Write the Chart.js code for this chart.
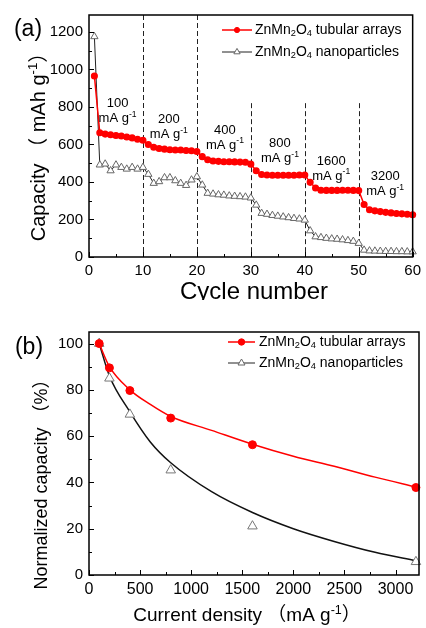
<!DOCTYPE html>
<html>
<head>
<meta charset="utf-8">
<script src="https://cdn.jsdelivr.net/npm/chart.js@4"></script>
<style>
  body { margin: 0; background: #fff; }
  #wrap { position: relative; width: 426px; height: 628px; }
  canvas { position: absolute; left: 0; }
  #chartA { top: 0; }
  #chartB { top: 300px; }
</style>
</head>
<body>
<div id="wrap">
  <canvas id="chartA" width="426" height="300"></canvas>
  <canvas id="chartB" width="426" height="328"></canvas>
</div>
<script>
// ---- data (a): rate capability vs cycle number
const cycles = [1, 2, 3, 4, 5, 6, 7, 8, 9, 10, 11, 12, 13, 14, 15, 16, 17, 18, 19, 20,
  21, 22, 23, 24, 25, 26, 27, 28, 29, 30, 31, 32, 33, 34, 35, 36, 37, 38, 39, 40,
  41, 42, 43, 44, 45, 46, 47, 48, 49, 50, 51, 52, 53, 54, 55, 56, 57, 58, 59, 60];
const tubularCap = [965, 662, 655, 652, 648, 645, 640, 635, 628, 622,
  600, 585, 578, 575, 572, 570, 570, 568, 566, 562,
  535, 518, 512, 510, 508, 508, 507, 506, 505, 495,
  460, 440, 437, 436, 436, 436, 436, 436, 437, 437,
  398, 368, 356, 355, 355, 355, 356, 356, 355, 354,
  280, 252, 246, 242, 238, 235, 232, 230, 228, 225];
const nanoCap = [1175, 491, 496, 460, 491, 478, 469, 478, 469, 478,
  441, 393, 402, 423, 423, 407, 393, 382, 411, 428,
  384, 340, 336, 332, 330, 326, 324, 322, 320, 315,
  277, 233, 228, 222, 218, 214, 210, 206, 203, 197,
  140, 108, 104, 100, 97, 95, 92, 88, 84, 73,
  37, 33, 32, 31, 30, 30, 29, 29, 28, 28];
const rateLabels = ['100', '200', '400', '800', '1600', '3200'];
const rateBoundaries = [10, 20, 30, 40, 50];
const ticksAx = [0, 10, 20, 30, 40, 50, 60];
const ticksAy = [0, 200, 400, 600, 800, 1000, 1200];

// ---- data (b): normalized capacity vs current density
const currents = [100, 200, 400, 800, 1600, 3200];
const tubularNorm = [100, 89.5, 79.7, 67.8, 56.3, 37.8];
const nanoNorm = [100, 85, 69.4, 45.3, 21.1, 5.7];
const fitCurrents = [100, 200, 400, 600, 800, 1200, 1600, 2000, 2400, 2800, 3200];
const tubularFit = [100, 90, 80, 73.7, 68.5, 62.5, 56.5, 51.3, 47, 42.3, 38];
const nanoFit = [100, 86, 70.5, 57.5, 48.5, 36, 27, 20, 14.5, 9.8, 6.2];
const ticksBx = [0, 500, 1000, 1500, 2000, 2500, 3000];
const ticksBy = [0, 20, 40, 60, 80, 100];

const labelTubular = 'ZnMn2O4 tubular arrays';
const labelNano = 'ZnMn2O4 nanoparticles';

const FONT = '"Liberation Sans", Arial, "Noto Sans CJK SC", sans-serif';
const RED = '#ff0000';

// annotation anchors for the rate labels (in data units of chart a)
const rateLabelPos = [[5.3, 816], [14.8, 731], [25.2, 677], [35.4, 603], [44.9, 512], [54.9, 427]];
const boundaryTops = [1290, 1290, 820, 820, 820];

function pts(xs, ys) {
  return xs.map((x, i) => ({ x: x, y: ys[i] }));
}

// text with sub/superscript parts: [[text, ''|'sub'|'sup'], ...]
function drawRich(ctx, parts, x, y, size, align) {
  const small = size * 0.66;
  let w = 0;
  parts.forEach(p => {
    ctx.font = (p[1] ? small : size) + 'px ' + FONT;
    w += ctx.measureText(p[0]).width;
  });
  let cx = align === 'center' ? x - w / 2 : (align === 'right' ? x - w : x);
  ctx.textAlign = 'left';
  ctx.textBaseline = 'middle';
  ctx.fillStyle = '#000';
  parts.forEach(p => {
    ctx.font = (p[1] ? small : size) + 'px ' + FONT;
    const dy = p[1] === 'sub' ? size * 0.22 : (p[1] === 'sup' ? -size * 0.3 : 0);
    ctx.fillText(p[0], cx, y + dy);
    cx += ctx.measureText(p[0]).width;
  });
}

function formulaParts(label) {
  return label.split(/(\d)/).filter(s => s).map(s => [s, /^\d$/.test(s) ? 'sub' : '']);
}

function drawMarker(ctx, type, x, y, r, fill, stroke) {
  ctx.beginPath();
  if (type === 'circle') {
    ctx.arc(x, y, r, 0, Math.PI * 2);
  } else {
    ctx.moveTo(x, y - r);
    ctx.lineTo(x + r * 0.87, y + r * 0.5);
    ctx.lineTo(x - r * 0.87, y + r * 0.5);
    ctx.closePath();
  }
  ctx.fillStyle = fill;
  ctx.fill();
  ctx.lineWidth = 1;
  ctx.strokeStyle = stroke;
  ctx.stroke();
}

// frame round the plot area + inward major/minor ticks
const framePlugin = {
  id: 'frame',
  afterDraw(chart) {
    const ctx = chart.ctx;
    const a = chart.chartArea;
    ctx.save();
    ctx.strokeStyle = '#000';
    ctx.lineWidth = 1.5;
    ctx.strokeRect(a.left, a.top, a.right - a.left, a.bottom - a.top);
    ctx.lineWidth = 1;
    const xs = chart.scales.x, ys = chart.scales.y;
    ctx.beginPath();
    [xs, ys].forEach(s => {
      const vals = s.ticks.map(t => t.value);
      const step = vals[1] - vals[0];
      const marks = [];
      vals.forEach(v => { marks.push([v, 5]); marks.push([v + step / 2, 3]); });
      marks.forEach(m => {
        if (m[0] > s.max) return;
        if (s === xs) {
          const px = Math.round(xs.getPixelForValue(m[0])) + 0.5;
          ctx.moveTo(px, a.bottom);
          ctx.lineTo(px, a.bottom - m[1]);
        } else {
          const py = Math.round(ys.getPixelForValue(m[0])) + 0.5;
          ctx.moveTo(a.left, py);
          ctx.lineTo(a.left + m[1], py);
        }
      });
    });
    ctx.stroke();
    ctx.restore();
  }
};

// custom legend: line + marker + formula text
function legendPlugin(rows) {
  return {
    id: 'legendRows',
    afterDraw(chart) {
      const ctx = chart.ctx;
      ctx.save();
      rows.forEach(r => {
        ctx.beginPath();
        ctx.strokeStyle = r.line;
        ctx.lineWidth = r.lineWidth;
        ctx.moveTo(r.x0, r.y);
        ctx.lineTo(r.x1, r.y);
        ctx.stroke();
        drawMarker(ctx, r.marker, (r.x0 + r.x1) / 2, r.y, r.r, r.fill, r.stroke);
        drawRich(ctx, formulaParts(r.label), r.tx, r.y, 14, 'left');
      });
      ctx.restore();
    }
  };
}

// dashed boundaries + rate annotations + titles for chart (a)
const annotA = {
  id: 'annotA',
  beforeDatasetsDraw(chart) {
    const ctx = chart.ctx;
    const xs = chart.scales.x, ys = chart.scales.y;
    ctx.save();
    ctx.strokeStyle = '#222';
    ctx.lineWidth = 1;
    ctx.setLineDash([5, 3]);
    rateBoundaries.forEach((c, i) => {
      const px = Math.round(xs.getPixelForValue(c)) + 0.5;
      ctx.beginPath();
      ctx.moveTo(px, Math.max(ys.getPixelForValue(boundaryTops[i]), chart.chartArea.top));
      ctx.lineTo(px, chart.chartArea.bottom);
      ctx.stroke();
    });
    ctx.restore();
  },
  afterDraw(chart) {
    const ctx = chart.ctx;
    const xs = chart.scales.x, ys = chart.scales.y;
    ctx.save();
    rateLabels.forEach((t, i) => {
      const px = xs.getPixelForValue(rateLabelPos[i][0]);
      const py = ys.getPixelForValue(rateLabelPos[i][1]);
      drawRich(ctx, [[t, '']], px, py, 13, 'center');
      drawRich(ctx, [['mA g', ''], ['-1', 'sup']], px, py + 15, 13, 'center');
    });
    drawRich(ctx, [['(a)', '']], 28, 30, 23, 'center');
    drawRich(ctx, [['Cycle number', '']], 254, 292, 24, 'center');
    ctx.translate(39, 142);
    ctx.rotate(-Math.PI / 2);
    drawRich(ctx, [['Capacity （ mAh g', ''], ['-1', 'sup'], ['）', '']], 0, 0, 20, 'center');
    ctx.restore();
  }
};

const titlesB = {
  id: 'titlesB',
  afterDraw(chart) {
    const ctx = chart.ctx;
    ctx.save();
    drawRich(ctx, [['(b)', '']], 29, 48, 23, 'center');
    drawRich(ctx, [['Current density （mA g', ''], ['-1', 'sup'], ['）', '']], 247, 316, 19, 'center');
    ctx.translate(42, 180);
    ctx.rotate(-Math.PI / 2);
    drawRich(ctx, [['Normalized capacity （%）', '']], 0, 0, 18, 'center');
    ctx.restore();
  }
};

function axis(min, max, tickVals, size, fit) {
  return {
    type: 'linear', min: min, max: max,
    grid: { display: false, drawTicks: false },
    border: { display: false },
    ticks: {
      padding: fit.pad, color: '#000', maxRotation: 0, autoSkip: false,
      font: { family: FONT, size: size },
      callback: v => String(v)
    },
    afterBuildTicks(s) { s.ticks = tickVals.map(v => ({ value: v })); },
    afterFit(s) {
      if (fit.h) s.height = fit.h;
      if (fit.w) s.width = fit.w;
    }
  };
}

new Chart(document.getElementById('chartA'), {
  type: 'line',
  data: {
    datasets: [{
      label: labelTubular,
      data: pts(cycles, tubularCap),
      borderColor: RED,
      backgroundColor: RED,
      pointBackgroundColor: RED,
      pointBorderColor: RED,
      pointRadius: 2.8,
      borderWidth: 1.5,
      clip: 8
    }, {
      label: labelNano,
      data: pts(cycles, nanoCap),
      borderColor: '#222',
      pointStyle: 'triangle',
      pointBackgroundColor: '#fff',
      pointBorderColor: '#666',
      pointBorderWidth: 1,
      pointRadius: 4.2,
      borderWidth: 1,
      clip: 8
    }]
  },
  options: {
    responsive: false,
    animation: false,
    events: [],
    layout: { padding: { top: 15, right: 8, left: 0, bottom: 0 } },
    plugins: { legend: { display: false }, tooltip: { enabled: false } },
    scales: {
      x: axis(0, 60, ticksAx, 15, { h: 43, pad: 5 }),
      y: axis(0, 1290, ticksAy, 15, { w: 89, pad: 6 })
    }
  },
  plugins: [annotA, framePlugin, legendPlugin([
    { label: labelTubular, y: 30, x0: 222, x1: 252, tx: 255, line: RED, lineWidth: 1.5, marker: 'circle', r: 2.6, fill: RED, stroke: RED },
    { label: labelNano, y: 52, x0: 222, x1: 252, tx: 255, line: '#222', lineWidth: 1, marker: 'triangle', r: 3.6, fill: '#fff', stroke: '#666' }
  ])]
});

new Chart(document.getElementById('chartB'), {
  type: 'line',
  data: {
    datasets: [{
      label: labelTubular,
      data: pts(currents, tubularNorm),
      showLine: false,
      pointBackgroundColor: RED,
      pointBorderColor: RED,
      pointRadius: 4,
      clip: 8
    }, {
      label: labelNano,
      data: pts(currents, nanoNorm),
      showLine: false,
      pointStyle: 'triangle',
      pointBackgroundColor: '#fff',
      pointBorderColor: '#777',
      pointBorderWidth: 1,
      pointRadius: 5.5,
      clip: 8
    }, {
      label: 'tubular fit',
      data: pts(fitCurrents, tubularFit),
      borderColor: RED,
      borderWidth: 1.5,
      pointRadius: 0,
      cubicInterpolationMode: 'monotone'
    }, {
      label: 'nano fit',
      data: pts(fitCurrents, nanoFit),
      borderColor: '#111',
      borderWidth: 1.5,
      pointRadius: 0,
      cubicInterpolationMode: 'monotone'
    }]
  },
  options: {
    responsive: false,
    animation: false,
    events: [],
    layout: { padding: { top: 32, right: 7, left: 0, bottom: 0 } },
    plugins: { legend: { display: false }, tooltip: { enabled: false } },
    scales: {
      x: axis(0, 3230, ticksBx, 16, { h: 53, pad: 5 }),
      y: axis(0, 105, ticksBy, 15, { w: 89, pad: 6 })
    }
  },
  plugins: [framePlugin, titlesB, legendPlugin([
    { label: labelTubular, y: 42, x0: 228, x1: 255, tx: 259, line: RED, lineWidth: 1.5, marker: 'circle', r: 3.2, fill: RED, stroke: RED },
    { label: labelNano, y: 63, x0: 228, x1: 255, tx: 259, line: '#222', lineWidth: 1, marker: 'triangle', r: 4, fill: '#fff', stroke: '#666' }
  ])]
});
</script>
</body>
</html>
